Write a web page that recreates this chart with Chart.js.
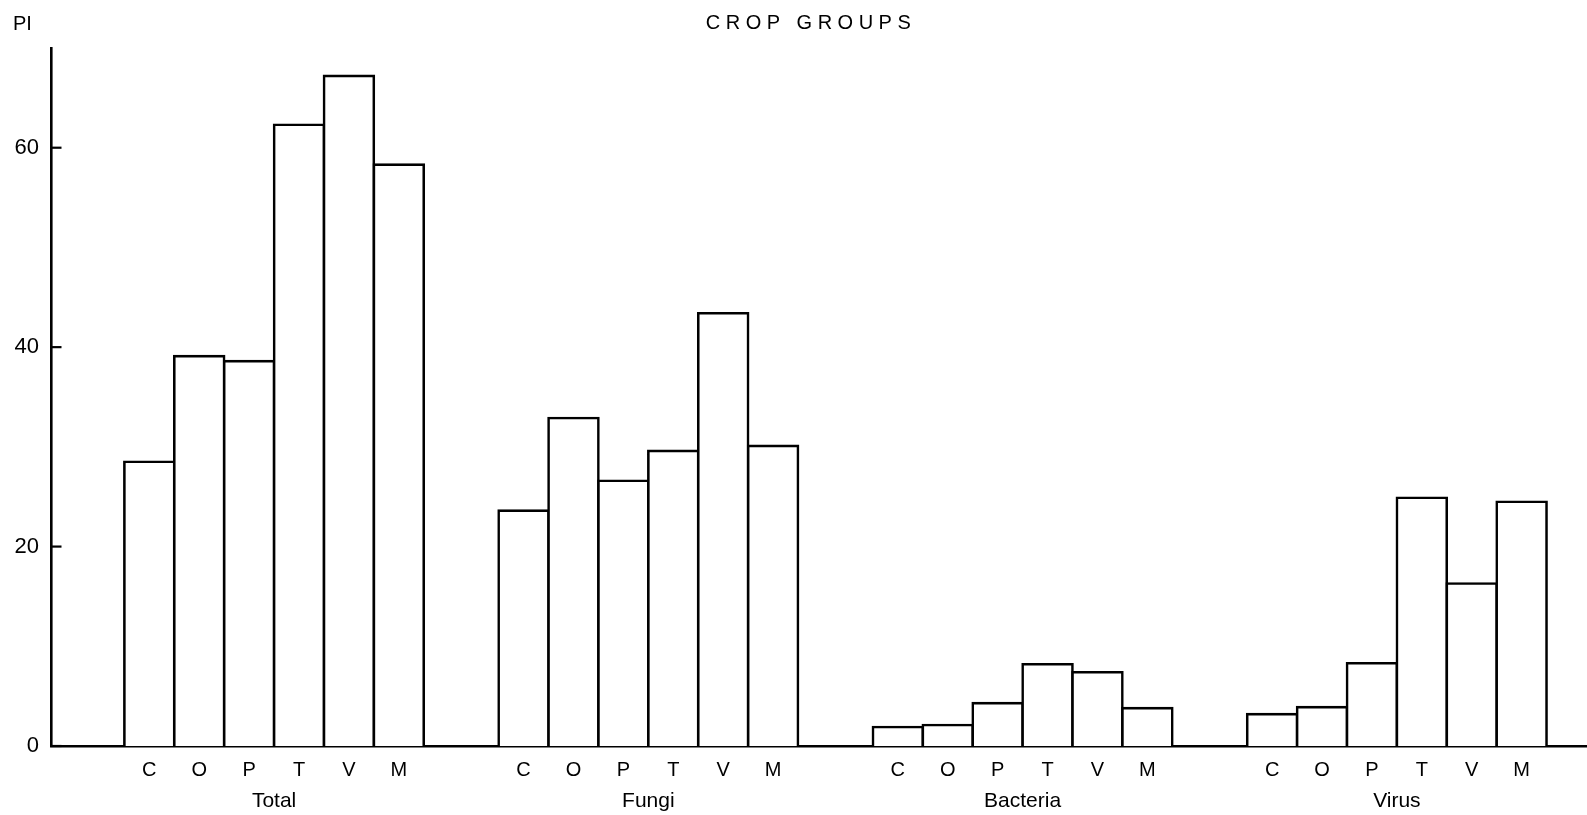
<!DOCTYPE html>
<html>
<head>
<meta charset="utf-8">
<script src="https://cdn.jsdelivr.net/npm/chart.js@4/dist/chart.umd.min.js"></script>
<style>
  body { margin: 0; background: #fff; }
  #wrap { width: 1587px; height: 815px; }
</style>
</head>
<body>
<div id="wrap"><canvas id="cropChart"></canvas></div>
<script>
// Crop groups and disease types
const cropLetters = ["C", "O", "P", "T", "V", "M"];
const groupNames = ["Total", "Fungi", "Bacteria", "Virus"];

// PI values per crop group
const totalPI = [28.5, 39.1, 38.6, 62.3, 67.2, 58.3];
const fungiPI = [23.6, 32.9, 26.6, 29.6, 43.4, 30.1];
const bacteriaPI = [1.9, 2.1, 4.3, 8.2, 7.4, 3.8];
const virusPI = [3.2, 3.9, 8.3, 24.9, 16.3, 24.5];

const yTicks = [0, 20, 40, 60];

const FONT = "'Liberation Sans', Arial, sans-serif";
const groupStep = 7.5; // 6 bars + 1.5 bar gap

const seriesList = [totalPI, fungiPI, bacteriaPI, virusPI];
const barPositions = [];
const groupCenters = [];
seriesList.forEach((s, g) => {
    groupCenters.push(g * groupStep + 2.5);
    s.forEach((v, i) => barPositions.push(g * groupStep + i));
});

// draws the short inward tick marks on the y axis and the top texts
const extras = {
    id: "extras",
    afterDraw(chart) {
        const ctx = chart.ctx;
        const y = chart.scales.y;
        const left = chart.chartArea.left;
        ctx.save();
        ctx.strokeStyle = "#000";
        ctx.lineWidth = 2.2;
        yTicks.forEach(t => {
            const py = y.getPixelForValue(t);
            ctx.beginPath();
            ctx.moveTo(left, py);
            ctx.lineTo(left + 10.5, py);
            ctx.stroke();
        });
        ctx.fillStyle = "#000";
        ctx.textBaseline = "middle";
        ctx.font = "20px " + FONT;
        ctx.textAlign = "left";
        ctx.fillText("PI", 13, 24);
        ctx.textAlign = "center";
        if ("letterSpacing" in ctx) ctx.letterSpacing = "5.5px";
        ctx.fillText("CROP GROUPS", 811, 23);
        ctx.restore();
    }
};

new Chart(document.getElementById("cropChart"), {
    type: "bar",
    data: {
        datasets: seriesList.map((s, g) => ({
            label: groupNames[g],
            data: s.map((v, i) => ({ x: g * groupStep + i, y: v })),
            backgroundColor: "#fff",
            borderColor: "#000",
            borderWidth: 2.6,
            inflateAmount: 1.3,
            borderSkipped: "start",
            barPercentage: 1,
            categoryPercentage: 1,
            grouped: false
        }))
    },
    options: {
        responsive: true,
        maintainAspectRatio: false,
        animation: false,
        layout: { padding: { top: 48, left: 0, right: 0, bottom: 0 } },
        plugins: {
            legend: { display: false },
            tooltip: { enabled: false }
        },
        scales: {
            x: {
                type: "linear",
                position: "bottom",
                min: -1.97,
                max: 28.81,
                offset: false,
                weight: 0,
                z: 1,
                grid: { display: false, drawTicks: false },
                border: { display: true, color: "#000", width: 2.5 },
                afterBuildTicks: axis => { axis.ticks = barPositions.map(v => ({ value: v })); },
                afterFit: axis => { axis.height = 36; },
                ticks: {
                    autoSkip: false,
                    maxRotation: 0,
                    padding: 12,
                    color: "#000",
                    font: { family: FONT, size: 20 },
                    callback: (value, index) => cropLetters[index % 6]
                }
            },
            x2: {
                type: "linear",
                position: "bottom",
                min: -1.97,
                max: 28.81,
                offset: false,
                weight: 1,
                grid: { display: false, drawTicks: false },
                border: { display: false },
                afterBuildTicks: axis => { axis.ticks = groupCenters.map(v => ({ value: v })); },
                afterFit: axis => { axis.height = 33; },
                ticks: {
                    autoSkip: false,
                    maxRotation: 0,
                    padding: 7,
                    color: "#000",
                    font: { family: FONT, size: 21 },
                    callback: (value, index) => groupNames[index]
                }
            },
            y: {
                min: 0,
                max: 70,
                grid: { display: false, drawTicks: false },
                border: { display: true, color: "#000", width: 2.6 },
                afterBuildTicks: axis => { axis.ticks = yTicks.map(v => ({ value: v })); },
                afterFit: axis => { axis.width = 51; },
                ticks: {
                    padding: 12,
                    color: "#000",
                    font: { family: FONT, size: 22 }
                }
            }
        }
    },
    plugins: [extras]
});
</script>
</body>
</html>
